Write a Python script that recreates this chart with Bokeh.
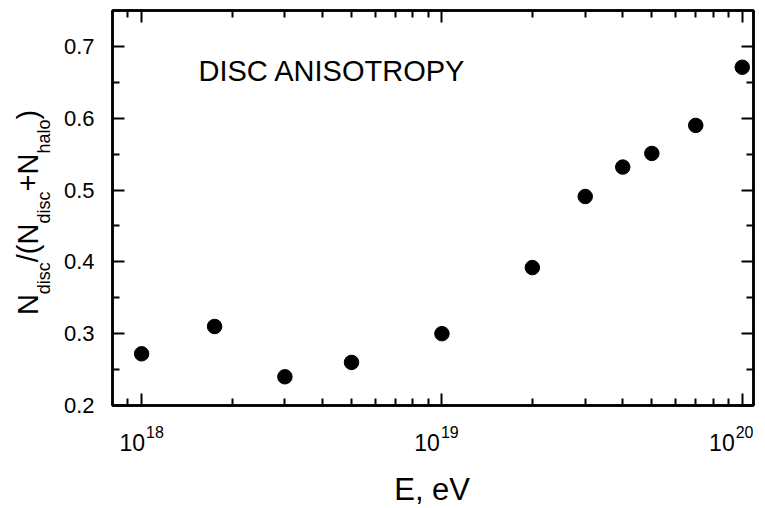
import math
from bokeh.plotting import figure
from bokeh.layouts import row, column
from bokeh.models import (LogAxis, LinearAxis, FixedTicker, Label, Range1d,
                          CustomJSTickFormatter, LogScale)
from bokeh.embed import file_html
from bokeh.resources import INLINE
from bokeh.core.properties import value

# ---------------- data ----------------
energy_eV = [1e18, 1.75e18, 3e18, 5e18, 1e19, 2e19, 3e19, 4e19, 5e19, 7e19, 1e20]
disc_fraction = [0.272, 0.310, 0.240, 0.260, 0.300, 0.392, 0.491, 0.532, 0.551, 0.590, 0.671]

x_major_ticks = [1e18, 1e19, 1e20]
x_tick_mantissa = ["10", "10", "10"]
x_tick_exponent = ["18", "19", "20"]
x_minor_ticks = [9e17, 2e18, 3e18, 4e18, 5e18, 6e18, 7e18, 8e18, 9e18,
                 2e19, 3e19, 4e19, 5e19, 6e19, 7e19, 8e19, 9e19]

y_major_ticks = [0.2, 0.3, 0.4, 0.5, 0.6, 0.7]
y_minor_ticks = [0.25, 0.35, 0.45, 0.55, 0.65]

# y title N_disc/(N_disc+N_halo), pieces with subscript flag and advance (px)
y_title_parts = ["N", "disc", "/(N", "disc", "+N", "halo", ")"]
y_title_is_sub = [False, True, False, True, False, True, False]
y_title_advance = [0, 20.9, 52.9, 91.6, 123.6, 161.5, 195.5]

X_START, X_END = 8e17, 1.09e20
Y_START, Y_END = 0.2, 0.75

FONT = "Liberation Sans"

# ---------------- geometry (px) ----------------
LEFT_W = 60          # strip holding the y title
MAIN_W = 705
MAIN_H = 420
BOT_H = 88
FRAME_L, FRAME_R, FRAME_T, FRAME_B = 52, 12, 10, 15
TOTAL_H = MAIN_H + BOT_H


def strip_y(page_y):
    """page row -> data y of the bottom strip"""
    return BOT_H - (page_y - MAIN_H)


# ---------------- main plot ----------------
p = figure(width=MAIN_W, height=MAIN_H, x_axis_type="log", title=None,
           x_range=Range1d(X_START, X_END), y_range=Range1d(Y_START, Y_END),
           output_backend="svg", toolbar_location=None,
           min_border_left=FRAME_L, min_border_right=FRAME_R,
           min_border_top=FRAME_T, min_border_bottom=FRAME_B)
p.grid.visible = False
p.background_fill_color = "white"
p.border_fill_color = "white"
p.outline_line_color = "black"
p.outline_line_width = 2.5


def style(ax):
    ax.axis_line_color = "black"
    ax.axis_line_width = 2.5
    ax.major_tick_in = 12
    ax.major_tick_out = 0
    ax.minor_tick_in = 7
    ax.minor_tick_out = 0
    ax.major_tick_line_width = 2
    ax.minor_tick_line_width = 2
    ax.major_tick_line_color = "black"
    ax.minor_tick_line_color = "black"


def blank(ax):
    ax.formatter = CustomJSTickFormatter(code="return '';")
    ax.major_label_text_font_size = "1px"
    ax.major_label_standoff = 0


xt = FixedTicker(ticks=x_major_ticks, minor_ticks=x_minor_ticks)
yt = FixedTicker(ticks=y_major_ticks, minor_ticks=y_minor_ticks)

bx = p.xaxis[0]
bx.ticker = xt
style(bx)
blank(bx)

ly = p.yaxis[0]
ly.ticker = yt
style(ly)
ly.major_label_text_font = FONT
ly.major_label_text_font_size = "22px"
ly.major_label_text_color = "black"
ly.major_label_standoff = 18

top = LogAxis(ticker=xt)
style(top)
blank(top)
p.add_layout(top, "above")
right = LinearAxis(ticker=yt)
style(right)
blank(right)
p.add_layout(right, "right")

p.scatter(energy_eV, disc_fraction, size=14.5, marker="circle",
          fill_color="black", line_color="black")

p.add_layout(Label(x=X_START, y=Y_END, text="DISC ANISOTROPY", text_align="left",
                   text_baseline="alphabetic", x_offset=86, y_offset=-60,
                   text_font=FONT, text_font_size="29px", text_color="black"))

# ---------------- bottom strip: x tick labels and x title ----------------
frame_w = MAIN_W - FRAME_L - FRAME_R
x_end_ext = X_START * (X_END / X_START) ** ((MAIN_W - FRAME_L) / frame_w)
bot = figure(width=MAIN_W, height=BOT_H, x_axis_type="log", title=None,
             x_range=Range1d(X_START, x_end_ext), y_range=Range1d(0, BOT_H),
             x_axis_location=None, y_axis_location=None,
             output_backend="svg", toolbar_location=None,
             min_border_left=FRAME_L, min_border_right=0,
             min_border_top=0, min_border_bottom=0)
bot.x_scale = LogScale()
bot.grid.visible = False
bot.outline_line_color = None
bot.background_fill_color = "white"
bot.border_fill_color = "white"

n = len(x_major_ticks)
bot.text(x=x_major_ticks, y=[strip_y(441.5)] * n, text=x_tick_mantissa,
         text_align="right", text_baseline="alphabetic", x_offset=4,
         text_font=value(FONT), text_font_size=value("23px"), text_color="black")
bot.text(x=x_major_ticks, y=[strip_y(431.5)] * n, text=x_tick_exponent,
         text_align="left", text_baseline="alphabetic", x_offset=5,
         text_font=value(FONT), text_font_size=value("16px"), text_color="black")
x_mid = math.sqrt(X_START * X_END)
bot.text(x=[x_mid], y=[strip_y(489)], text=["E, eV"], text_align="center",
         text_baseline="alphabetic", x_offset=5,
         text_font=value(FONT), text_font_size=value("31px"), text_color="black")

# ---------------- left strip: y title ----------------
lf = figure(width=LEFT_W, height=TOTAL_H, title=None,
            x_range=Range1d(0, LEFT_W), y_range=Range1d(0, TOTAL_H),
            x_axis_location=None, y_axis_location=None,
            output_backend="svg", toolbar_location=None,
            min_border_left=0, min_border_right=0, min_border_top=0, min_border_bottom=0)
lf.grid.visible = False
lf.outline_line_color = None
lf.background_fill_color = "white"
lf.border_fill_color = "white"

title_start = TOTAL_H - 314.6
main_txt = [t for t, s in zip(y_title_parts, y_title_is_sub) if not s]
main_pos = [title_start + a for a, s in zip(y_title_advance, y_title_is_sub) if not s]
sub_txt = [t for t, s in zip(y_title_parts, y_title_is_sub) if s]
sub_pos = [title_start + a for a, s in zip(y_title_advance, y_title_is_sub) if s]
lf.text(x=[27.5] * len(main_txt), y=main_pos, text=main_txt, angle=math.pi / 2,
        text_align="left", text_baseline="alphabetic",
        text_font=value(FONT), text_font_size=value("29px"), text_color="black")
lf.text(x=[43.5] * len(sub_txt), y=sub_pos, text=sub_txt, angle=math.pi / 2,
        text_align="left", text_baseline="alphabetic",
        text_font=value(FONT), text_font_size=value("18px"), text_color="black")

layout = row(lf, column(p, bot, spacing=0), spacing=0)
open("out.html", "w").write(file_html(layout, INLINE))
